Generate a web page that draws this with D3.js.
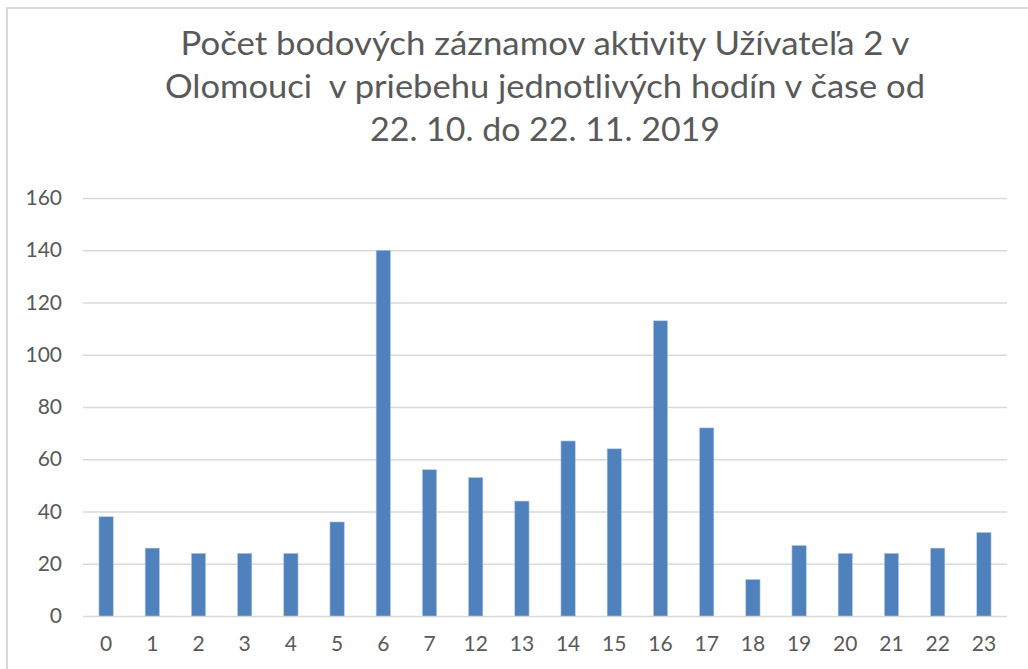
<!DOCTYPE html>
<html>
<head>
<meta charset="utf-8">
<script src="https://cdn.jsdelivr.net/npm/d3@7"></script>
<style>
  html, body { margin: 0; padding: 0; background: #fff; }
  svg { display: block; }
</style>
</head>
<body>
<svg id="chart" width="1028" height="669"></svg>
<script>
// Hours of the day (only those with recorded activity)
const hours = ["0","1","2","3","4","5","6","7","12","13","14","15","16","17","18","19","20","21","22","23"];
// Number of point records per hour
const counts = [38, 26, 24, 24, 24, 36, 140, 56, 53, 44, 67, 64, 113, 72, 14, 27, 24, 24, 26, 32];
// Y axis ticks
const yTicks = [0, 20, 40, 60, 80, 100, 120, 140, 160];
const titleLines = [
  "Počet bodových záznamov aktivity Užívateľa 2 v",
  "Olomouci  v priebehu jednotlivých hodín v čase od",
  "22. 10. do 22. 11. 2019"
];
// Rendered width of each title line
const titleWidths = [729, 760, 350];

const W = 1028, H = 669;
const margin = { left: 83, right: 21, top: 198, bottom: 53 };
const svg = d3.select("#chart");
const font = "Lato, 'Open Sans', sans-serif";
const textColor = "#595959";

// Chart frame (light border)
svg.append("rect")
  .attr("x", 7).attr("y", 8)
  .attr("width", W + 20).attr("height", H + 20)
  .attr("fill", "#fff")
  .attr("stroke", "#d9d9d9").attr("stroke-width", 2);

const x = d3.scaleBand()
  .domain(hours)
  .range([margin.left, W - margin.right])
  .paddingInner(0.69).paddingOuter(0.345);

const y = d3.scaleLinear()
  .domain([0, 160])
  .range([H - margin.bottom, margin.top]);

// Gridlines and value labels
const yAxis = d3.axisLeft(y).tickValues(yTicks)
  .tickSize(-(W - margin.right - margin.left)).tickPadding(21);
const gy = svg.append("g")
  .attr("transform", `translate(${margin.left},0)`)
  .call(yAxis);
gy.select(".domain").remove();
gy.selectAll(".tick line").attr("stroke", "#d9d9d9").attr("stroke-width", 1.5);
gy.selectAll(".tick text")
  .attr("fill", textColor)
  .attr("font-family", font).attr("font-size", 21);

// Bars
svg.append("g").selectAll("rect")
  .data(counts)
  .join("rect")
  .attr("x", (d, i) => x(hours[i]))
  .attr("width", x.bandwidth())
  .attr("y", d => y(d))
  .attr("height", d => y(0) - y(d))
  .attr("fill", "#4f81bd")
  .attr("stroke", "#b9cde5").attr("stroke-width", 0.6);

// Hour labels
const xAxis = d3.axisBottom(x).tickSize(0).tickPadding(20);
const gx = svg.append("g")
  .attr("transform", `translate(0,${y(0)})`)
  .call(xAxis);
gx.select(".domain").remove();
gx.selectAll(".tick text")
  .attr("fill", textColor)
  .attr("font-family", font).attr("font-size", 21);

// Title
const cx = (margin.left + W - margin.right) / 2;
svg.append("g").selectAll("text")
  .data(titleLines)
  .join("text")
  .attr("x", cx)
  .attr("y", (d, i) => 55 + i * 43)
  .attr("text-anchor", "middle")
  .attr("xml:space", "preserve")
  .attr("textLength", (d, i) => titleWidths[i])
  .attr("lengthAdjust", "spacingAndGlyphs")
  .attr("fill", textColor)
  .style("white-space", "pre")
  .style("font-family", font).style("font-size", "32px")
  .text(d => d);
</script>
</body>
</html>
